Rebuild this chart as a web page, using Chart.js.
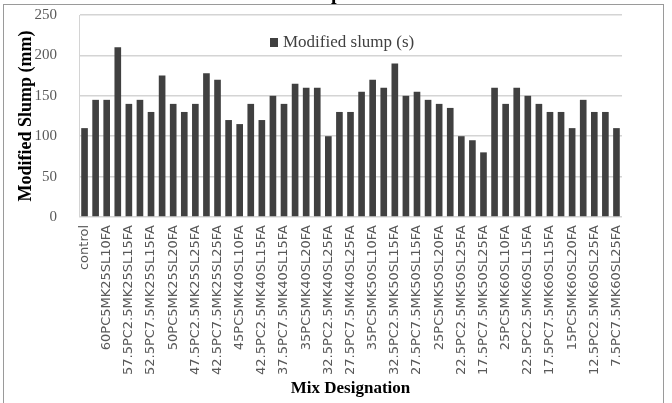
<!DOCTYPE html>
<html>
<head>
<meta charset="utf-8">
<script src="https://cdn.jsdelivr.net/npm/chart.js@4/dist/chart.umd.min.js"></script>
<style>
  html, body { margin: 0; padding: 0; background: #ffffff; }
  #wrap { width: 672px; height: 403px; position: relative; }
</style>
</head>
<body>
<div id="wrap"><canvas id="chart" width="672" height="403"></canvas></div>
<script>
// Mix designations: PC / MK / SL / FA percentages
const mixLabels = [
  'control',
  '62.5PC2.5MK25SL10FA', '60PC5MK25SL10FA', '57.5PC7.5MK25SL10FA',
  '57.5PC2.5MK25SL15FA', '55PC5MK25SL15FA', '52.5PC7.5MK25SL15FA',
  '52.5PC2.5MK25SL20FA', '50PC5MK25SL20FA', '47.5PC7.5MK25SL20FA',
  '47.5PC2.5MK25SL25FA', '45PC5MK25SL25FA', '42.5PC7.5MK25SL25FA',
  '47.5PC2.5MK40SL10FA', '45PC5MK40SL10FA', '42.5PC7.5MK40SL10FA',
  '42.5PC2.5MK40SL15FA', '40PC5MK40SL15FA', '37.5PC7.5MK40SL15FA',
  '37.5PC2.5MK40SL20FA', '35PC5MK40SL20FA', '32.5PC7.5MK40SL20FA',
  '32.5PC2.5MK40SL25FA', '30PC5MK40SL25FA', '27.5PC7.5MK40SL25FA',
  '37.5PC2.5MK50SL10FA', '35PC5MK50SL10FA', '32.5PC7.5MK50SL10FA',
  '32.5PC2.5MK50SL15FA', '30PC5MK50SL15FA', '27.5PC7.5MK50SL15FA',
  '27.5PC2.5MK50SL20FA', '25PC5MK50SL20FA', '22.5PC7.5MK50SL20FA',
  '22.5PC2.5MK50SL25FA', '20PC5MK50SL25FA', '17.5PC7.5MK50SL25FA',
  '27.5PC2.5MK60SL10FA', '25PC5MK60SL10FA', '22.5PC7.5MK60SL10FA',
  '22.5PC2.5MK60SL15FA', '20PC5MK60SL15FA', '17.5PC7.5MK60SL15FA',
  '17.5PC2.5MK60SL20FA', '15PC5MK60SL20FA', '12.5PC7.5MK60SL20FA',
  '12.5PC2.5MK60SL25FA', '10PC5MK60SL25FA', '7.5PC7.5MK60SL25FA'
];

// Modified slump (mm)
const slumpValues = [
  110,
  145, 145, 210, 140, 145, 130, 175, 140, 130, 140, 178, 170,
  120, 115, 140, 120, 150, 140, 165, 160, 160, 100, 130, 130,
  155, 170, 160, 190, 150, 155, 145, 140, 135, 100, 95, 80,
  160, 140, 160, 150, 140, 130, 130, 110, 145, 130, 130, 110
];

const yTicks = [0, 50, 100, 150, 200, 250];
const seriesName = 'Modified slump (s)';
const chartTitle = 'Modified Slump';

const barColor = '#404040';
const gridColor = '#d4d4d4';
const tickColor = '#595959';
const serif = '"Liberation Serif", "Times New Roman", serif';
const sans = '"DejaVu Sans", "Open Sans", sans-serif';

// Outer frame and the (partly off-canvas) chart title
const framePlugin = {
  id: 'frame',
  beforeDraw(chart) {
    const ctx = chart.ctx;
    ctx.save();
    ctx.fillStyle = '#ffffff';
    ctx.fillRect(0, 0, chart.width, chart.height);
    ctx.strokeStyle = '#9a9a9a';
    ctx.lineWidth = 1;
    ctx.strokeRect(3.5, 4.5, 660, 460);
    ctx.restore();
  },
  afterDraw(chart) {
    const ctx = chart.ctx;
    ctx.save();
    ctx.fillStyle = '#000000';
    ctx.font = 'bold 20px ' + serif;
    ctx.textAlign = 'right';
    ctx.textBaseline = 'alphabetic';
    ctx.fillText(chartTitle, 342, -1);
    ctx.restore();
  }
};

// Legend drawn inside the plot area
const insideLegend = {
  id: 'insideLegend',
  afterDatasetsDraw(chart) {
    const ctx = chart.ctx;
    const ds = chart.data.datasets[0];
    ctx.save();
    ctx.fillStyle = ds.backgroundColor;
    ctx.fillRect(270, 38, 8, 9);
    ctx.fillStyle = '#404040';
    ctx.font = '17px ' + serif;
    ctx.textAlign = 'left';
    ctx.textBaseline = 'middle';
    ctx.fillText(ds.label, 283, 42.5);
    ctx.restore();
  }
};

new Chart(document.getElementById('chart'), {
  type: 'bar',
  data: {
    labels: mixLabels,
    datasets: [{
      label: seriesName,
      data: slumpValues,
      backgroundColor: barColor,
      borderWidth: 0,
      barPercentage: 0.6,
      categoryPercentage: 1.0
    }]
  },
  options: {
    responsive: false,
    animation: false,
    devicePixelRatio: 1,
    layout: { padding: { top: 15, right: 50, left: 0, bottom: 0 } },
    plugins: {
      legend: { display: false },
      title: { display: false },
      tooltip: { enabled: false }
    },
    scales: {
      x: {
        grid: { display: false, drawTicks: false },
        border: { display: false },
        ticks: {
          autoSkip: false,
          minRotation: 90,
          maxRotation: 90,
          padding: 8,
          color: tickColor,
          font: { family: sans, size: 13 },
          callback: (v, i) => (i % 2 === 0 ? mixLabels[i] : '')
        },
        title: {
          display: true,
          text: 'Mix Designation',
          color: '#000000',
          font: { family: serif, size: 17, weight: 'bold' },
          padding: { top: 0, bottom: 4 }
        },
        afterFit(scale) {
          scale.height = 186;
          scale.paddingLeft = 0;
          scale.paddingRight = 0;
        }
      },
      y: {
        min: 0,
        max: 250,
        afterBuildTicks(scale) { scale.ticks = yTicks.map(v => ({ value: v })); },
        grid: { color: gridColor, lineWidth: 1.5, drawTicks: false },
        border: { display: true, color: gridColor, width: 1 },
        ticks: {
          padding: 22,
          color: tickColor,
          font: { family: serif, size: 15 }
        },
        title: {
          display: true,
          text: 'Modified Slump (mm)',
          color: '#000000',
          font: { family: serif, size: 18, weight: 'bold' },
          padding: { top: 16, bottom: 0 }
        },
        afterFit(scale) {
          scale.width = 79;
          scale.paddingTop = 0;
          scale.paddingBottom = 0;
        }
      }
    }
  },
  plugins: [framePlugin, insideLegend]
});
</script>
</body>
</html>
